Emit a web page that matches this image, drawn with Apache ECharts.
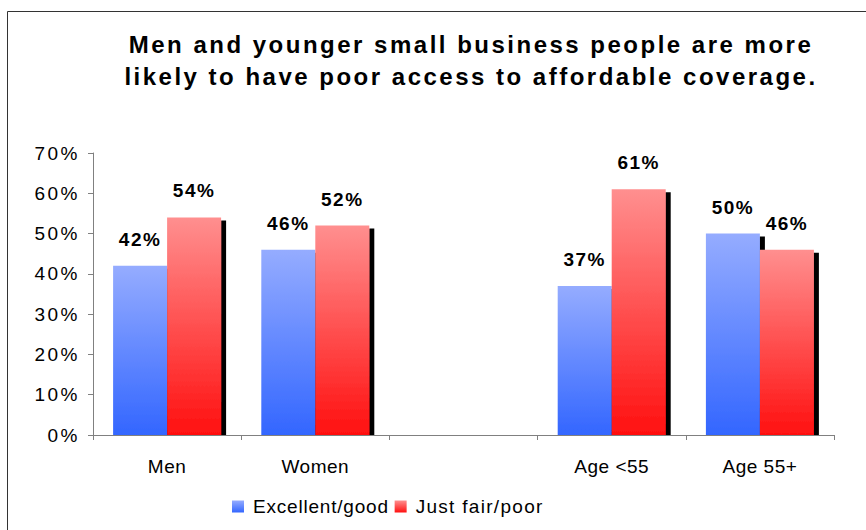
<!DOCTYPE html>
<html><head><meta charset="utf-8">
<script src="https://cdn.jsdelivr.net/npm/echarts@6/dist/echarts.min.js"></script>
<style>html,body{margin:0;padding:0;background:#fff}#c{width:866px;height:530px}</style>
</head><body><div id="c"></div>
<script>
const titleLines = ['Men and younger small business people are more', 'likely to have poor access to affordable coverage.'];
const categories = ['Men', 'Women', '', 'Age <55', 'Age 55+'];
const seriesNames = ['Excellent/good', 'Just fair/poor'];
const excellentGood = [42, 46, '-', 37, 50];
const justFairPoor = [54, 52, '-', 61, 46];
const yTicks = [0, 10, 20, 30, 40, 50, 60, 70];

const FONT = '"Liberation Sans", Arial, sans-serif';
const blueGrad = new echarts.graphic.LinearGradient(0, 0, 0, 1, [
  {offset: 0, color: '#95acff'}, {offset: 1, color: '#3366ff'}]);
const redGrad = new echarts.graphic.LinearGradient(0, 0, 0, 1, [
  {offset: 0, color: '#ff8f8f'}, {offset: 1, color: '#ff1010'}]);

function barSeries(name, data, color) {
  return {
    name, type: 'bar', data, barWidth: 54, barGap: '0%', z: 2,
    itemStyle: {color, shadowColor: '#000', shadowBlur: 0, shadowOffsetX: 5, shadowOffsetY: 3},
    label: {show: true, position: 'top', distance: 17, formatter: '{c}%',
      fontFamily: FONT, fontWeight: 'bold', fontSize: 19, color: '#000'}
  };
}

const chart = echarts.init(document.getElementById('c'), null, {renderer: 'svg'});
chart.setOption({
  animation: false,
  backgroundColor: '#fff',
  graphic: [
    {type: 'rect', left: 5, top: 9, shape: {x: 0, y: 0, width: 900, height: 600},
      style: {fill: 'none', stroke: '#333', lineWidth: 1}, z: -1},
    {type: 'rect', left: 94, top: 436, shape: {x: 0, y: 0, width: 745, height: 7},
      style: {fill: '#fff'}, z: 4}
  ],
  title: {text: titleLines.join('\n'), left: 466, top: 23, textAlign: 'center',
    textStyle: {fontFamily: FONT, fontWeight: 'bold', fontSize: 24, lineHeight: 32, color: '#000'}},
  grid: {left: 93, right: 32, top: 153, bottom: 95, containLabel: false},
  legend: {data: seriesNames, left: 232, top: 497, padding: 0, icon: 'rect', itemWidth: 12, itemHeight: 12,
    itemGap: 17, textStyle: {fontFamily: FONT, fontSize: 19, color: '#000', padding: [0, 0, 0, 4]}},
  xAxis: {type: 'category', data: categories, z: 5,
    axisLine: {lineStyle: {color: '#808080', width: 1}},
    axisTick: {show: true, length: 5, lineStyle: {color: '#808080'}},
    axisLabel: {margin: 22, fontFamily: FONT, fontSize: 19, color: '#000'}},
  yAxis: {type: 'value', min: 0, max: 70, interval: 10, z: 5,
    axisLine: {show: true, lineStyle: {color: '#808080', width: 1}},
    axisTick: {show: true, length: 5, lineStyle: {color: '#808080'}},
    splitLine: {show: false},
    axisLabel: {margin: 13, fontFamily: FONT, fontSize: 19, color: '#000',
      formatter: v => yTicks.includes(v) ? v + '%' : ''}},
  series: [barSeries(seriesNames[0], excellentGood, blueGrad), barSeries(seriesNames[1], justFairPoor, redGrad)]
});

function spaceText() {
  document.querySelectorAll('#c svg text').forEach(t => {
    const s = t.textContent;
    const bold = /bold|700/.test(getComputedStyle(t).fontWeight + ' ' + (t.getAttribute('style') || ''));
    let ls = 0;
    if (titleLines.includes(s)) ls = 2.5;
    else if (/^\d+%$/.test(s)) ls = bold ? 1.5 : 2.5;
    else if (categories.includes(s)) ls = 0.5;
    else if (s === seriesNames[0]) ls = 0.8;
    else if (s === seriesNames[1]) ls = 1.3;
    if (ls) t.style.letterSpacing = ls + 'px';
  });
}
spaceText();
chart.on('finished', spaceText);
</script></body></html>
